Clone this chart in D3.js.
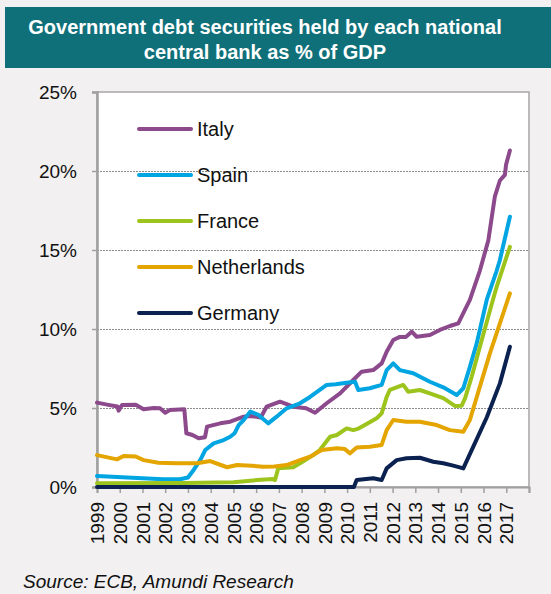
<!DOCTYPE html>
<html>
<head>
<meta charset="utf-8">
<script src="https://cdnjs.cloudflare.com/ajax/libs/d3/7.8.5/d3.min.js"></script>
<style>
body{margin:0;background:#f2f0f0;}
svg{display:block;font-family:Arial,"Liberation Sans",sans-serif;}
</style>
</head>
<body>
<svg id="chart" width="551" height="594"></svg>
<script>
//数据：年份(小数) , 占GDP百分比
var yearTicks=d3.range(1999,2019);
var yTicks=[0,5,10,15,20,25];
var gridTicks=[5,10,15,20];
var names=["Italy","Spain","France","Netherlands","Germany"];
var colors=["#8c4a8c","#00a5e2","#9cc41c","#e4a500","#0b2150"];

var italy=[[1999.0,5.34],[1999.5,5.2],[1999.9,5.1],[1999.95,4.83],[2000.1,5.19],[2000.7,5.2],[2001.05,4.92],
  [2001.5,5.0],[2001.77,4.98],[2002.0,4.7],[2002.2,4.87],[2002.84,4.92],[2002.93,3.4],[2003.2,3.29],
  [2003.47,3.08],[2003.75,3.15],[2003.84,3.82],[2004.42,4.03],[2004.86,4.13],[2005.45,4.45],[2005.73,4.5],
  [2006.02,4.45],[2006.2,4.4],[2006.46,5.08],[2007.05,5.4],[2007.63,5.08],[2008.2,4.98],[2008.59,4.7],
  [2009.1,5.3],[2009.69,5.93],[2010.27,6.77],[2010.64,7.3],[2011.15,7.4],[2011.52,7.82],[2011.74,8.56],
  [2012.03,9.3],[2012.32,9.5],[2012.59,9.5],[2012.84,9.83],[2013.06,9.51],[2013.64,9.62],[2014.08,9.94],
  [2014.52,10.19],[2014.89,10.36],[2015.11,11.0],[2015.4,11.84],[2015.84,13.7],[2016.21,15.6],
  [2016.5,18.4],[2016.72,19.4],[2016.94,19.75],[2016.99,20.4],[2017.16,21.3]];
var spain=[[1999.0,0.7],[2001.0,0.55],[2001.9,0.49],[2002.65,0.49],[2003.0,0.6],[2003.25,1.08],
  [2003.54,1.7],[2003.76,2.34],[2004.13,2.76],[2004.57,2.97],[2004.86,3.18],[2005.05,3.4],[2005.23,3.92],
  [2005.45,4.24],[2005.74,4.77],[2006.1,4.56],[2006.53,4.03],[2006.9,4.45],[2007.34,4.98],[2007.93,5.3],
  [2008.37,5.7],[2009.1,6.46],[2009.5,6.5],[2009.98,6.6],[2010.35,6.66],[2010.49,6.14],[2011.0,6.25],
  [2011.52,6.46],[2011.74,7.4],[2012.03,7.82],[2012.32,7.4],[2012.91,7.2],[2013.64,6.66],[2014.23,6.31],
  [2014.82,5.82],[2015.11,6.25],[2015.4,7.6],[2015.7,9.09],[2016.14,11.84],[2016.58,13.7],[2016.72,14.37],
  [2017.16,17.1]];
var france=[[1999.0,0.23],[2002.87,0.25],[2005.0,0.3],[2006.04,0.44],[2006.73,0.5],[2006.83,0.44],
  [2006.97,1.18],[2007.63,1.25],[2007.93,1.5],[2008.51,2.02],[2008.8,2.34],[2009.25,3.18],[2009.55,3.29],
  [2009.98,3.71],[2010.27,3.6],[2010.5,3.7],[2010.78,3.92],[2011.3,4.35],[2011.52,4.66],[2011.74,5.7],
  [2011.88,6.14],[2012.47,6.46],[2012.69,6.03],[2013.2,6.14],[2013.64,5.93],[2014.23,5.62],[2014.74,5.13],
  [2015.04,5.15],[2015.19,5.62],[2015.48,6.98],[2015.84,8.88],[2016.41,11.84],[2016.58,12.68],[2017.16,15.2]];
var netherlands=[[1999.0,2.02],[1999.88,1.75],[2000.17,1.96],[2000.7,1.93],[2001.05,1.7],[2001.7,1.54],
  [2002.5,1.5],[2003.4,1.5],[2003.98,1.64],[2004.72,1.25],[2005.16,1.39],[2005.8,1.35],[2006.3,1.28],
  [2006.8,1.3],[2007.34,1.39],[2007.93,1.7],[2008.37,1.92],[2008.88,2.34],[2009.55,2.45],[2009.9,2.4],
  [2010.13,2.13],[2010.42,2.5],[2011.0,2.55],[2011.52,2.66],[2011.74,3.6],[2012.03,4.24],[2012.61,4.13],
  [2013.2,4.13],[2013.94,3.92],[2014.52,3.6],[2015.11,3.5],[2015.4,4.24],[2015.84,6.35],[2016.28,8.46],
  [2016.72,10.36],[2017.16,12.26]];
var germany=[[1999.0,0],[2010.3,0],[2010.42,0.44],[2011.15,0.55],[2011.52,0.44],[2011.74,1.18],
  [2012.18,1.7],[2012.61,1.82],[2013.2,1.85],[2013.79,1.6],[2014.23,1.5],[2014.67,1.35],[2015.11,1.18],
  [2015.55,2.55],[2016.14,4.4],[2016.72,6.56],[2017.16,8.88]];
var allSeries=[italy,spain,france,netherlands,germany];

var svg=d3.select("#chart");
var x=d3.scaleLinear().domain([1999,2018]).range([97,529]);
var y=d3.scaleLinear().domain([0,25]).range([487,92]);

//标题
svg.append("rect").attr("x",5).attr("y",7).attr("width",546).attr("height",61).attr("fill","#10707a");
var title=svg.append("text").attr("x",265).attr("y",34).attr("text-anchor","middle")
    .attr("fill","#fff").attr("font-weight","bold").attr("font-size",20);
title.append("tspan").attr("x",265).text("Government debt securities held by each national");
title.append("tspan").attr("x",265).attr("dy",25).text("central bank as % of GDP");

//绘图区
svg.append("rect").attr("x",97).attr("y",92).attr("width",432).attr("height",395)
    .attr("fill","#fff").attr("stroke","#a6a6a6").attr("stroke-width",1.5);

svg.append("g").selectAll("line").data(gridTicks).enter().append("line")
    .attr("x1",97).attr("x2",529)
    .attr("y1",function(d){return y(d)+0.5;}).attr("y2",function(d){return y(d)+0.5;})
    .attr("stroke","#8c8c8c").attr("stroke-width",1).attr("stroke-dasharray","2,1");

var yAxis=svg.append("g").attr("transform","translate(97,0)")
    .call(d3.axisLeft(y).tickValues(yTicks).tickSize(5).tickFormat(function(d){return d+"%";}));
yAxis.select(".domain").attr("stroke","#a0a0a0").attr("stroke-width",2.5);
yAxis.selectAll(".tick line").attr("stroke","#a0a0a0").attr("stroke-width",1.5);
yAxis.selectAll("text").attr("font-size",19).attr("fill","#111").attr("x",-20).attr("font-family",null);

var xAxis=svg.append("g").attr("transform","translate(0,487)")
    .call(d3.axisBottom(x).tickValues(yearTicks).tickSize(6)
    .tickFormat(function(d){return d<2018?d:"";}));
xAxis.select(".domain").attr("stroke","#a0a0a0").attr("stroke-width",2);
xAxis.selectAll(".tick line").attr("stroke","#a0a0a0").attr("stroke-width",1.5);
xAxis.selectAll("text").attr("font-size",19).attr("fill","#111").attr("font-family",null)
    .attr("transform","rotate(-90)").attr("text-anchor","end")
    .attr("x",-15).attr("y",0).attr("dy","0.35em");

//折线
var line=d3.line().x(function(d){return x(d[0]);}).y(function(d){return y(d[1]);});
svg.append("g").selectAll("path").data(allSeries).enter().append("path")
    .attr("d",line).attr("fill","none")
    .attr("stroke",function(d,i){return colors[i];})
    .attr("stroke-width",4).attr("stroke-linejoin","round").attr("stroke-linecap","round");

//图例
var legend=svg.append("g").selectAll("g").data(names).enter().append("g")
    .attr("transform",function(d,i){return "translate(0,"+(129+i*46)+")";});
legend.append("line").attr("x1",139).attr("x2",191)
    .attr("stroke",function(d,i){return colors[i];}).attr("stroke-width",4).attr("stroke-linecap","round");
legend.append("text").attr("x",197).attr("dy","0.35em").attr("font-size",20).attr("fill","#111")
    .text(function(d){return d;});

svg.append("text").attr("x",23).attr("y",588).attr("font-size",19).attr("font-style","italic")
    .attr("fill","#111").text("Source: ECB, Amundi Research");
</script>
</body>
</html>
